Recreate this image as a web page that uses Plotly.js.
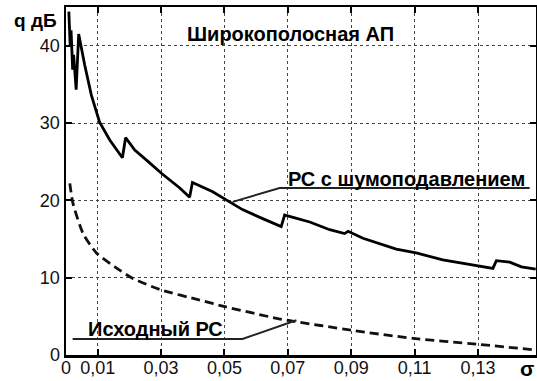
<!DOCTYPE html>
<html>
<head>
<meta charset="utf-8">
<script src="https://cdn.plot.ly/plotly-3.0.1.min.js"></script>
<style>
html, body { margin: 0; padding: 0; background: #fff; }
#chart { width: 537px; height: 381px; }
</style>
</head>
<body>
<div id="chart"></div>
<script>
// Noise-suppressed signal: q (dB) vs sigma
const sigmaSuppressed = [0.0009, 0.0013, 0.0016, 0.0021, 0.0024, 0.0032, 0.0040, 0.0059, 0.0080, 0.0106,
  0.0138, 0.0160, 0.0178, 0.0188, 0.0217, 0.0254, 0.0301, 0.0359, 0.0390, 0.0399,
  0.0422, 0.0463, 0.0516, 0.0557, 0.0617, 0.0679, 0.0690, 0.0769, 0.0832, 0.0879,
  0.0890, 0.0937, 0.1042, 0.1105, 0.1189, 0.1295, 0.1347, 0.1358, 0.1400, 0.1437, 0.1482];
const qSuppressed = [44.4, 40.1, 42.0, 36.9, 38.8, 34.3, 41.5, 37.5, 33.6, 30.1,
  27.8, 26.5, 25.5, 28.1, 26.5, 25.2, 23.5, 21.6, 20.4, 22.3,
  21.9, 21.1, 19.8, 18.8, 17.7, 16.6, 18.1, 17.2, 16.2, 15.7,
  16.0, 15.1, 13.7, 13.2, 12.3, 11.6, 11.2, 12.2, 12.0, 11.4, 11.1];

// Original signal
const sigmaSource = [0.0012, 0.0022, 0.0054, 0.0096, 0.0154, 0.0211, 0.0301, 0.0422, 0.0501,
  0.0664, 0.0698, 0.0900, 0.1095, 0.1295, 0.1484];
const qSource = [22.2, 19.6, 15.7, 13.2, 11.4, 9.9, 8.4, 7.1, 6.25,
  4.75, 4.5, 3.2, 2.15, 1.4, 0.65];

// Axis ticks
const xTickVals = [0, 0.01, 0.03, 0.05, 0.07, 0.09, 0.11, 0.13];
const xTickText = ['0', '0,01', '0,03', '0,05', '0,07', '0,09', '0,11', '0,13'];
const yTickVals = [0, 10, 20, 30, 40];

// Labels
const titleText = 'Широкополосная АП';
const labelSuppressed = 'РС с шумоподавлением';
const labelSource = 'Исходный РС';

const FONT = 'Liberation Sans, Arial, sans-serif';

const traces = [
  {
    x: sigmaSuppressed, y: qSuppressed, type: 'scatter', mode: 'lines',
    line: { color: '#000', width: 2.8 }, hoverinfo: 'skip'
  },
  {
    x: sigmaSource, y: qSource, type: 'scatter', mode: 'lines',
    line: { color: '#111', width: 2.8, dash: '9px,5px', shape: 'spline', smoothing: 0.6 },
    hoverinfo: 'skip'
  }
];

const axisCommon = {
  showline: true, linecolor: '#000', linewidth: 2.5, mirror: 'ticks',
  ticks: 'inside', ticklen: 6, tickwidth: 2, tickcolor: '#000',
  showgrid: true, gridcolor: '#444', gridwidth: 1, griddash: 'dot',
  zeroline: false, fixedrange: true,
  tickfont: { family: FONT, size: 18, color: '#111' }
};

const layout = {
  width: 537, height: 381,
  margin: { l: 66, r: 1, t: 7, b: 26 },
  paper_bgcolor: '#fff', plot_bgcolor: '#fff',
  showlegend: false,
  xaxis: Object.assign({}, axisCommon, {
    range: [0, 0.1483], tickmode: 'array', tickvals: xTickVals, ticktext: xTickText,
    ticklabelstandoff: -5
  }),
  yaxis: Object.assign({}, axisCommon, {
    range: [0, 45.0], tickmode: 'array', tickvals: yTickVals
  }),
  shapes: [
    // leader to the noise-suppressed curve
    { type: 'path', xref: 'x', yref: 'y',
      path: 'M 0.0526 19.8 L 0.0674 21.6 L 0.1463 21.6',
      line: { color: '#222', width: 2 } },
    // leader to the original curve
    { type: 'path', xref: 'x', yref: 'y',
      path: 'M 0.0021 2.07 L 0.0557 2.07 L 0.0727 4.5',
      line: { color: '#222', width: 2 } }
  ],
  annotations: [
    { text: '<b>' + titleText + '</b>', xref: 'x', yref: 'y', x: 0.0375, y: 41.5,
      xanchor: 'left', yanchor: 'middle', showarrow: false,
      font: { family: FONT, size: 20, color: '#000' } },
    { text: '<b>' + labelSuppressed + '</b>', xref: 'x', yref: 'y', x: 0.0694, y: 22.8,
      xanchor: 'left', yanchor: 'middle', showarrow: false,
      font: { family: FONT, size: 20, color: '#000' } },
    { text: '<b>' + labelSource + '</b>', xref: 'x', yref: 'y', x: 0.0062, y: 3.35,
      xanchor: 'left', yanchor: 'middle', showarrow: false,
      font: { family: FONT, size: 20, color: '#000' } },
    { text: '<b>q дБ</b>', xref: 'paper', yref: 'paper', x: -0.064, y: 0.96,
      xanchor: 'center', yanchor: 'middle', showarrow: false,
      font: { family: FONT, size: 19, color: '#000' } },
    { text: '<b>σ</b>', xref: 'paper', yref: 'paper', x: 0.981, y: -0.040,
      xanchor: 'center', yanchor: 'middle', showarrow: false,
      font: { family: FONT, size: 21, color: '#000' } }
  ]
};

Plotly.newPlot('chart', traces, layout, { staticPlot: true, displayModeBar: false });
</script>
</body>
</html>
